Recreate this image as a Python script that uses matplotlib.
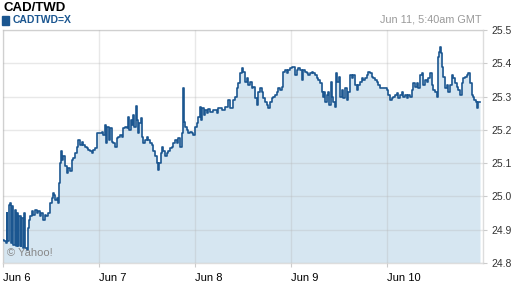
"""
CAD/TWD 5日チャートを再現する
"""
import matplotlib
matplotlib.use("Agg")
import matplotlib.pyplot as plt

# 6月6日0時からの経過時間(時間)と為替レート
hours = [
    0.1, 0.3, 0.7, 0.9, 1.1, 1.4, 1.75, 2.0, 2.3, 2.6, 2.9, 3.2, 3.5, 3.75,
    4.0, 4.4, 4.6, 4.9, 5.2, 5.6, 5.9, 6.2, 6.4, 6.75, 7.2, 7.6, 8.0, 8.4,
    8.8, 9.25, 9.6, 10.0, 10.4, 10.75, 11.3, 11.75, 12.2, 12.4, 12.75, 13.0,
    13.4, 13.8, 14.1,
    14.25, 14.4, 14.75, 15.1, 15.5, 15.9, 16.3, 16.75, 17.2, 17.6, 18.0, 18.4,
    18.8, 19.25, 19.7, 20.1, 20.5, 20.9, 21.3, 21.75, 22.2, 22.6, 23.0, 23.4,
    23.8, 24.25, 24.7, 25.1, 25.5, 25.75, 26.1, 26.4, 26.75, 27.2, 27.6, 28.0,
    28.4, 28.8, 29.25, 29.7, 30.1, 30.5, 30.9, 31.3, 31.6, 31.9, 32.25, 32.6,
    32.8, 33.2, 33.4, 33.75, 34.1, 34.4, 34.75, 35.1, 35.5, 35.9, 36.3, 36.75,
    37.2, 37.6, 38.0, 38.4, 38.75, 39.1, 39.4, 39.75, 40.1, 40.5, 40.9, 41.3,
    41.75, 42.2, 42.6, 43.0, 43.4, 43.8, 44.25, 44.7, 44.9, 45.1, 45.2, 45.5,
    45.9, 46.3, 46.75, 47.2, 47.6, 48.0, 48.4, 48.8, 49.25, 49.5, 49.8, 50.2,
    50.5, 50.9, 51.3, 51.75, 52.6, 53.4, 53.8, 54.7, 55.5, 56.3, 56.75, 57.6,
    58.0, 58.4, 58.8, 59.25, 59.7, 60.1, 60.5, 60.9, 61.3, 61.75, 62.2, 62.6,
    63.0, 63.4, 63.8,
    64.25, 64.7, 65.1, 65.5, 65.9, 66.3, 66.75, 67.2, 67.6, 68.0, 68.4, 68.8,
    69.25, 69.7, 70.1, 70.5, 70.9, 71.3, 71.75, 72.2, 72.6, 73.0, 73.4, 73.8,
    74.25, 74.7, 75.1, 75.5, 75.9, 76.3, 76.75, 77.2, 77.6, 78.0, 78.4, 78.8,
    79.25, 79.7, 79.9, 80.25, 80.6, 80.9, 81.25, 81.6, 81.9, 82.25, 82.6, 82.9,
    83.25, 83.6, 83.9, 84.25, 84.7, 85.1, 85.5, 85.9, 86.3, 86.75, 87.2, 87.6,
    88.0, 88.4, 88.8, 89.25, 89.7, 90.1, 90.5, 90.9, 91.3, 91.75, 92.2, 92.6,
    93.0, 93.4, 93.8, 94.25, 94.7, 95.1, 95.5, 95.9, 96.3, 96.75, 97.2, 97.6,
    98.0, 98.4, 98.8, 99.25, 99.7, 100.1, 100.5, 100.9, 101.3, 101.75, 102.2,
    102.6, 103.0, 103.4, 103.8, 104.25, 104.7, 105.1, 105.5, 105.9, 106.3,
    106.75, 107.2, 107.6, 108.0, 108.4, 108.65, 109.0, 109.25, 109.5, 109.75,
    110.1, 110.5, 110.9, 111.3, 111.75, 112.2, 112.6, 113.0, 113.4, 113.8,
    114.25, 114.7, 115.1, 115.5, 115.9, 116.3, 116.75, 117.2, 117.6, 117.85,
    118.2, 118.4, 118.7, 119.25,
]
rates = [
    24.868, 24.865, 24.86, 24.95, 24.865, 24.975, 24.98, 24.86, 24.97, 24.855,
    24.96, 24.85, 24.95, 24.85, 24.94, 24.85, 24.935, 24.845, 24.95, 24.845,
    24.84, 24.905, 24.93, 24.94, 24.955, 24.945, 24.96, 24.95, 24.955, 24.94,
    24.95, 24.93, 24.945, 24.94, 24.95, 24.98, 24.995, 25.01, 25.005, 24.99,
    24.995, 24.98, 25.04,
    25.10, 25.135, 25.11, 25.12, 25.09, 25.07, 25.085, 25.075, 25.11, 25.115,
    25.13, 25.15, 25.17, 25.155, 25.165, 25.155, 25.15, 25.145, 25.14, 25.135,
    25.13, 25.14, 25.145, 25.19, 25.192, 25.19, 25.195, 25.185, 25.215, 25.16,
    25.21, 25.17, 25.205, 25.165, 25.16, 25.15, 25.175, 25.18, 25.185, 25.18,
    25.205, 25.21, 25.205, 25.24, 25.20, 25.23, 25.215, 25.245, 25.21, 25.272,
    25.23, 25.19, 25.22, 25.235, 25.18, 25.16, 25.17, 25.18, 25.17, 25.16,
    25.155, 25.135, 25.12, 25.10, 25.078, 25.10, 25.13, 25.15, 25.135, 25.12,
    25.13, 25.135, 25.145, 25.15, 25.16, 25.17, 25.16, 25.175, 25.15, 25.19,
    25.22, 25.325, 25.225, 25.21, 25.20, 25.19, 25.195, 25.19, 25.185, 25.21,
    25.22, 25.24, 25.27, 25.23, 25.265, 25.245, 25.26, 25.25, 25.262, 25.255,
    25.26, 25.25, 25.265, 25.26, 25.268, 25.29, 25.265, 25.29, 25.30, 25.325,
    25.34, 25.37, 25.385, 25.375, 25.345, 25.355, 25.335, 25.345, 25.325,
    25.33, 25.295, 25.275, 25.315,
    25.325, 25.315, 25.295, 25.285, 25.275, 25.265, 25.285, 25.295, 25.30,
    25.305, 25.315, 25.325, 25.32, 25.33, 25.375, 25.38, 25.37, 25.38, 25.385,
    25.39, 25.39, 25.365, 25.38, 25.385, 25.38, 25.35, 25.38, 25.375, 25.37,
    25.365, 25.37, 25.375, 25.37, 25.365, 25.355, 25.35, 25.34, 25.315, 25.30,
    25.315, 25.285, 25.305, 25.315, 25.275, 25.345, 25.30, 25.285, 25.27,
    25.37, 25.345, 25.36, 25.30, 25.32, 25.295, 25.325, 25.29, 25.315, 25.365,
    25.355, 25.365, 25.335, 25.32, 25.335, 25.345, 25.355, 25.35, 25.355,
    25.365, 25.375, 25.37, 25.36, 25.355, 25.35, 25.345, 25.335, 25.325,
    25.325, 25.325, 25.325, 25.32, 25.305, 25.29, 25.295, 25.30, 25.305, 25.31,
    25.295, 25.305, 25.315, 25.30, 25.305, 25.295, 25.305, 25.30, 25.32, 25.34,
    25.33, 25.34, 25.325, 25.365, 25.37, 25.335, 25.35, 25.345, 25.355, 25.37,
    25.335, 25.32, 25.315, 25.30, 25.42, 25.435, 25.448, 25.43, 25.39, 25.36,
    25.325, 25.335, 25.315, 25.335, 25.365, 25.355, 25.34, 25.33, 25.32,
    25.305, 25.34, 25.355, 25.36, 25.365, 25.37, 25.34, 25.305, 25.30, 25.29,
    25.285, 25.265, 25.285, 25.283,
]
day_ticks = [0, 24, 48, 72, 96]
day_labels = ["Jun 6", "Jun 7", "Jun 8", "Jun 9", "Jun 10"]
rate_ticks = [24.8, 24.9, 25.0, 25.1, 25.2, 25.3, 25.4, 25.5]

line_color = "#1b5690"
fill_color = "#d6e6f1"
plt.rcParams["font.family"] = ["Liberation Sans", "DejaVu Sans"]

fig = plt.figure(figsize=(5.12, 2.88), dpi=100)
ax = fig.add_axes([3 / 512, 25 / 288, 480 / 512, 233 / 288])

ax.fill_between(hours, rates, 24.8, step="post", color=fill_color, lw=0,
                zorder=1)
ax.plot(hours, rates, color=line_color, lw=1.2, drawstyle="steps-post",
        zorder=3)

ax.set_xlim(0, 120)
ax.set_ylim(24.8, 25.5)
ax.set_xticks(day_ticks)
ax.set_xticklabels(day_labels, ha="left")
ax.set_yticks(rate_ticks)
ax.set_yticklabels([f"{v:.1f}" for v in rate_ticks])
ax.yaxis.tick_right()

ax.set_axisbelow(False)
ax.grid(True, color="#b4b4b4", alpha=0.3, lw=1.0, zorder=2)
for s in ax.spines.values():
    s.set_color("#dddddd")
    s.set_linewidth(1.0)
ax.tick_params(axis="y", length=3, width=0.8, color="#cccccc",
               labelsize=7.5, labelcolor="#333333", pad=3)
ax.tick_params(axis="x", length=3, width=0.8, color="#cccccc",
               labelsize=8, labelcolor="#000000", pad=4)

ax.text(0.008, 0.045, "\u00a9 Yahoo!", transform=ax.transAxes,
        fontsize=8, color="#888888", va="center", ha="left", zorder=4)

fig.text(3 / 512, 1 - 8 / 288, "CAD/TWD", fontsize=9.5, fontweight="bold",
         color="#000000", va="center", ha="left")
fig.patches.append(plt.Rectangle((2 / 512, 1 - 25 / 288), 7 / 512, 9 / 288,
                                 transform=fig.transFigure,
                                 color=line_color, figure=fig))
fig.text(13 / 512, 1 - 20 / 288, "CADTWD=X", fontsize=7.5,
         fontweight="bold", color=line_color, va="center", ha="left")
fig.text(482 / 512, 1 - 19 / 288, "Jun 11, 5:40am GMT", fontsize=7.8,
         color="#999999", va="center", ha="right")

fig.savefig("out.png", dpi=100)
